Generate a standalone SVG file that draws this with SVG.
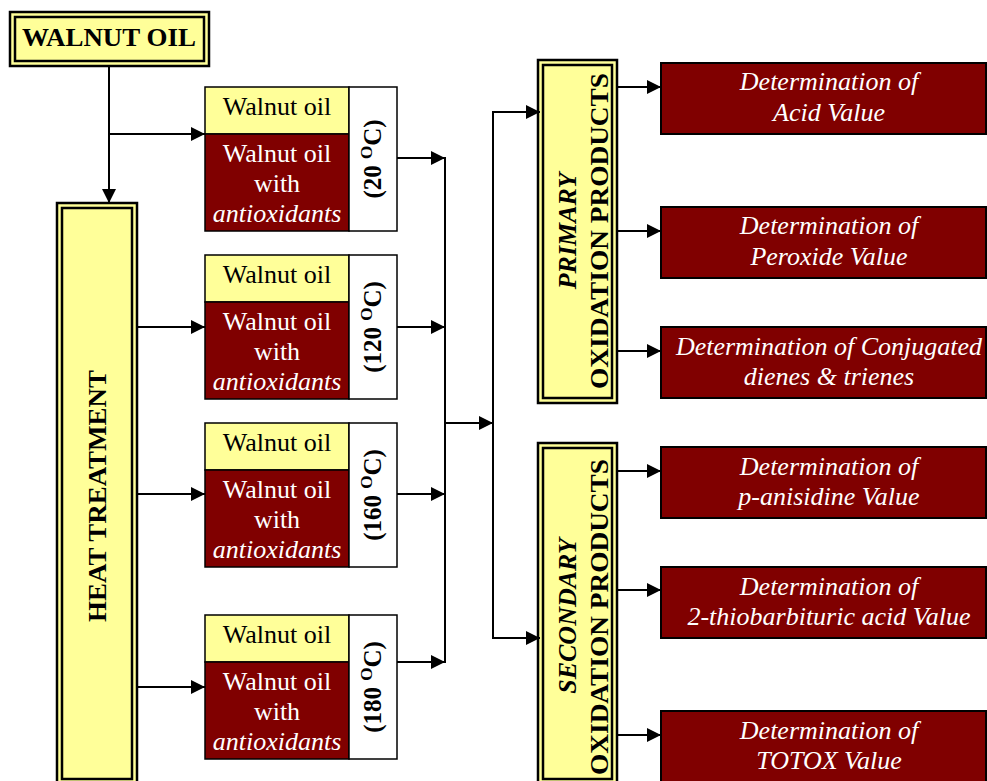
<svg xmlns="http://www.w3.org/2000/svg" width="987" height="781" viewBox="0 0 987 781" font-family="'Liberation Serif', 'Times New Roman', serif">
<defs>
<marker id="ah" markerUnits="userSpaceOnUse" markerWidth="16" markerHeight="14" refX="14" refY="7" orient="auto">
<path d="M0,0 L14,7 L0,14 Z" fill="#000"/>
</marker>
<style>
.outer{fill:#FFFF99;stroke:#000;stroke-width:2.5}
.inner{fill:#FFFF99;stroke:#000;stroke-width:2.5}
.yel{fill:#FFFF99;stroke:#000;stroke-width:1.5}
.red{fill:#800000;stroke:#000;stroke-width:1.5}
.wht{fill:#fff;stroke:#000;stroke-width:1.5}
.rbox{fill:#800000;stroke:#000;stroke-width:2}
.title{font-size:26px;font-weight:bold;fill:#000;text-anchor:middle}
.blk{font-size:26px;fill:#000;text-anchor:middle}
.wt{font-size:26px;fill:#fff;text-anchor:middle}
.wti{font-size:26px;fill:#fff;text-anchor:middle;font-style:italic}
.tmp{font-size:25px;font-weight:bold;fill:#000;text-anchor:middle}
.det{font-size:26px;fill:#fff;text-anchor:middle;font-style:italic}
.conn line{stroke:#000;stroke-width:2;fill:none}
</style>
</defs>

<g id="walnut-oil">
<rect class="outer" x="10" y="12" width="199" height="54"/>
<rect class="inner" x="15" y="17" width="189" height="44"/>
<text class="title" x="109" y="46" font-size="27" textLength="174" lengthAdjust="spacingAndGlyphs">WALNUT OIL</text>
</g>

<g id="heat-treatment">
<rect class="outer" x="57" y="203" width="80" height="583"/>
<rect class="inner" x="62" y="208" width="70" height="571"/>
<text class="title" transform="translate(106,496) rotate(-90)" x="0" y="0" textLength="252" lengthAdjust="spacingAndGlyphs">HEAT TREATMENT</text>
</g>

<g id="group-20">
<rect class="yel" x="205" y="87" width="144" height="47"/>
<rect class="red" x="205" y="134" width="144" height="97"/>
<rect class="wht" x="349" y="87" width="48" height="144"/>
<text class="blk" x="277" y="115">Walnut oil</text>
<text class="wt" x="277" y="162">Walnut oil</text>
<text class="wt" x="277" y="192">with</text>
<text class="wti" x="277" y="222">antioxidants</text>
<text class="tmp" transform="translate(381,159) rotate(-90)" x="0" y="0">(20 <tspan font-size="17" dy="-9">O</tspan><tspan dy="9">C)</tspan></text>
</g>

<g id="group-120">
<rect class="yel" x="205" y="255" width="144" height="47"/>
<rect class="red" x="205" y="302" width="144" height="97"/>
<rect class="wht" x="349" y="255" width="48" height="144"/>
<text class="blk" x="277" y="283">Walnut oil</text>
<text class="wt" x="277" y="330">Walnut oil</text>
<text class="wt" x="277" y="360">with</text>
<text class="wti" x="277" y="390">antioxidants</text>
<text class="tmp" transform="translate(381,327) rotate(-90)" x="0" y="0">(120 <tspan font-size="17" dy="-9">O</tspan><tspan dy="9">C)</tspan></text>
</g>

<g id="group-160">
<rect class="yel" x="205" y="423" width="144" height="47"/>
<rect class="red" x="205" y="470" width="144" height="97"/>
<rect class="wht" x="349" y="423" width="48" height="144"/>
<text class="blk" x="277" y="451">Walnut oil</text>
<text class="wt" x="277" y="498">Walnut oil</text>
<text class="wt" x="277" y="528">with</text>
<text class="wti" x="277" y="558">antioxidants</text>
<text class="tmp" transform="translate(381,495) rotate(-90)" x="0" y="0">(160 <tspan font-size="17" dy="-9">O</tspan><tspan dy="9">C)</tspan></text>
</g>

<g id="group-180">
<rect class="yel" x="205" y="615" width="144" height="47"/>
<rect class="red" x="205" y="662" width="144" height="97"/>
<rect class="wht" x="349" y="615" width="48" height="144"/>
<text class="blk" x="277" y="643">Walnut oil</text>
<text class="wt" x="277" y="690">Walnut oil</text>
<text class="wt" x="277" y="720">with</text>
<text class="wti" x="277" y="750">antioxidants</text>
<text class="tmp" transform="translate(381,687) rotate(-90)" x="0" y="0">(180 <tspan font-size="17" dy="-9">O</tspan><tspan dy="9">C)</tspan></text>
</g>

<g id="primary">
<rect class="outer" x="538" y="60" width="79" height="343"/>
<rect class="inner" x="543" y="65" width="69" height="333"/>
<text class="title" transform="translate(576,231) rotate(-90)" x="0" y="0" font-style="italic">PRIMARY</text>
<text class="title" transform="translate(608,231) rotate(-90)" x="0" y="0" textLength="316" lengthAdjust="spacingAndGlyphs">OXIDATION PRODUCTS</text>
</g>

<g id="secondary">
<rect class="outer" x="538" y="443" width="79" height="343"/>
<rect class="inner" x="543" y="448" width="69" height="331"/>
<text class="title" transform="translate(576,616) rotate(-90)" x="0" y="0" font-style="italic">SECONDARY</text>
<text class="title" transform="translate(608,617) rotate(-90)" x="0" y="0" textLength="316" lengthAdjust="spacingAndGlyphs">OXIDATION PRODUCTS</text>
</g>

<g id="acid-value">
<rect class="rbox" x="661" y="63" width="325" height="71"/>
<text class="det" x="829" y="90">Determination of</text>
<text class="det" x="829" y="121">Acid Value</text>
</g>

<g id="peroxide-value">
<rect class="rbox" x="661" y="207" width="325" height="71"/>
<text class="det" x="829" y="234">Determination of</text>
<text class="det" x="829" y="265">Peroxide Value</text>
</g>

<g id="conjugated">
<rect class="rbox" x="661" y="327" width="325" height="71"/>
<text class="det" x="829" y="355">Determination of Conjugated</text>
<text class="det" x="829" y="385">dienes &amp; trienes</text>
</g>

<g id="anisidine">
<rect class="rbox" x="661" y="447" width="325" height="71"/>
<text class="det" x="829" y="475">Determination of</text>
<text class="det" x="829" y="505">p-anisidine Value</text>
</g>

<g id="tba">
<rect class="rbox" x="661" y="567" width="325" height="71"/>
<text class="det" x="829" y="595">Determination of</text>
<text class="det" x="829" y="625">2-thiobarbituric acid Value</text>
</g>

<g id="totox">
<rect class="rbox" x="661" y="711" width="325" height="72"/>
<text class="det" x="829" y="739">Determination of</text>
<text class="det" x="829" y="769">TOTOX Value</text>
</g>

<g id="connectors" class="conn">
<line x1="109" y1="66" x2="109" y2="203" marker-end="url(#ah)"/>
<line x1="109" y1="134" x2="205" y2="134" marker-end="url(#ah)"/>
<line x1="137" y1="327" x2="205" y2="327" marker-end="url(#ah)"/>
<line x1="137" y1="494" x2="205" y2="494" marker-end="url(#ah)"/>
<line x1="137" y1="687" x2="205" y2="687" marker-end="url(#ah)"/>
<line x1="397" y1="158" x2="445" y2="158" marker-end="url(#ah)"/>
<line x1="397" y1="327" x2="445" y2="327" marker-end="url(#ah)"/>
<line x1="397" y1="494" x2="445" y2="494" marker-end="url(#ah)"/>
<line x1="397" y1="662" x2="445" y2="662" marker-end="url(#ah)"/>
<line x1="445" y1="157" x2="445" y2="663"/>
<line x1="445" y1="423" x2="493" y2="423" marker-end="url(#ah)"/>
<line x1="493" y1="111" x2="493" y2="639"/>
<line x1="493" y1="112" x2="540" y2="112" marker-end="url(#ah)"/>
<line x1="493" y1="638" x2="540" y2="638" marker-end="url(#ah)"/>
<line x1="617" y1="87" x2="661" y2="87" marker-end="url(#ah)"/>
<line x1="617" y1="231" x2="661" y2="231" marker-end="url(#ah)"/>
<line x1="617" y1="351" x2="661" y2="351" marker-end="url(#ah)"/>
<line x1="617" y1="471" x2="661" y2="471" marker-end="url(#ah)"/>
<line x1="617" y1="590" x2="661" y2="590" marker-end="url(#ah)"/>
<line x1="617" y1="735" x2="661" y2="735" marker-end="url(#ah)"/>
</g>
</svg>
